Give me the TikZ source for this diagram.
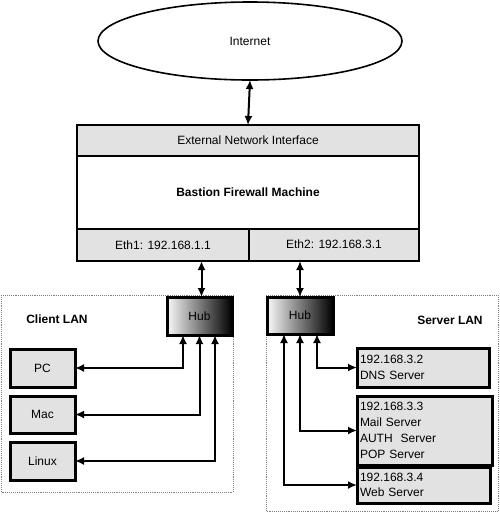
\documentclass[tikz,border=0pt]{standalone}
\usepackage{fontspec}
\setmainfont{Liberation Sans}
\usetikzlibrary{arrows.meta,shapes.geometric}
\definecolor{boxgray}{HTML}{E2E2E2}
\begin{document}
\begin{tikzpicture}[x=1pt,y=-1pt,
  every node/.style={font=\fontsize{12}{16}\selectfont, inner sep=0pt, outer sep=0pt},
  fwbox/.style={draw, line width=2.5pt, rectangle},
  hostbox/.style={draw, line width=3pt, fill=boxgray, rectangle},
  hubbox/.style={draw, line width=3pt, rectangle, shading=axis, left color=gray!5, middle color=gray!50, right color=black, shading angle=90},
  lanbox/.style={draw=gray, densely dotted, line width=0.9pt},
  biarrow/.style={line width=2pt, {Latex[length=9pt,width=8pt]}-{Latex[length=9pt,width=8pt]}},
  lbl/.style={font=\fontsize{12}{16}\selectfont\bfseries}
]
\useasboundingbox (0,0) rectangle (500,523);
% Internet
\node[draw, ellipse, line width=1.6pt, minimum width=304pt, minimum height=78pt] (internet) at (250,41) {Internet};
% Firewall
\node[fwbox, fill=boxgray, minimum width=342pt, minimum height=31pt] (ext) at (248,140.5) {External Network Interface};
\node[fwbox, fill=white, minimum width=342pt, minimum height=73pt] (fw) at (248,192.5) {\bfseries Bastion Firewall Machine};
\node[fwbox, fill=boxgray, minimum width=172pt, minimum height=32pt] (eth1) at (163,245) {Eth1: 192.168.1.1};
\node[fwbox, fill=boxgray, minimum width=170pt, minimum height=32pt] (eth2) at (334,245) {\raisebox{2pt}{Eth2: 192.168.3.1}};
% LAN areas
\draw[lanbox] (1,295) rectangle (233,492);
\draw[lanbox] (266,295) rectangle (498,511);
\node[lbl] (clientlbl) at (57,319) {Client LAN};
\node[lbl] (serverlbl) at (450,320) {Server LAN};
% Hubs
\node[hubbox, minimum width=65pt, minimum height=38pt] (chub) at (199.5,316) {Hub};
\node[hubbox, minimum width=66pt, minimum height=37pt] (shub) at (300,315.5) {Hub};
% Client hosts
\node[hostbox, minimum width=65pt, minimum height=38pt] (pc) at (42.5,368) {PC};
\node[hostbox, minimum width=65pt, minimum height=37pt] (mac) at (42.5,414.5) {Mac};
\node[hostbox, minimum width=65pt, minimum height=38pt] (linux) at (42.5,461) {Linux};
% Servers
\node[hostbox, minimum width=132pt, minimum height=39pt, align=left, text width=126pt] (dns) at (423,367.5) {192.168.3.2\\DNS Server};
\node[hostbox, minimum width=135pt, minimum height=69pt, align=left, text width=129pt] (mail) at (424.5,430.5) {192.168.3.3\\Mail Server\\AUTH\ \ Server\\POP Server};
\node[hostbox, minimum width=133pt, minimum height=36pt, align=left, text width=127pt, font=\fontsize{12}{15}\selectfont] (web) at (423.5,485) {192.168.3.4\\Web Server};
% Connectors
\draw[biarrow] (internet.south) -- (ext.north);
\draw[biarrow] ([xshift=2pt]chub.north) -- ([xshift=2pt]chub.north |- eth1.south);
\draw[biarrow] (shub.north) -- (shub.north |- eth2.south);
\draw[biarrow] ([xshift=-16.5pt]chub.south) |- (pc.east);
\draw[biarrow] (chub.south) |- (mac.east);
\draw[biarrow] ([xshift=15.5pt]chub.south) |- (linux.east);
\draw[biarrow] ([xshift=17pt]shub.south) |- (dns.west);
\draw[biarrow] (shub.south) |- (mail.west);
\draw[biarrow] ([xshift=-16pt]shub.south) |- (web.west);
\end{tikzpicture}
\end{document}
